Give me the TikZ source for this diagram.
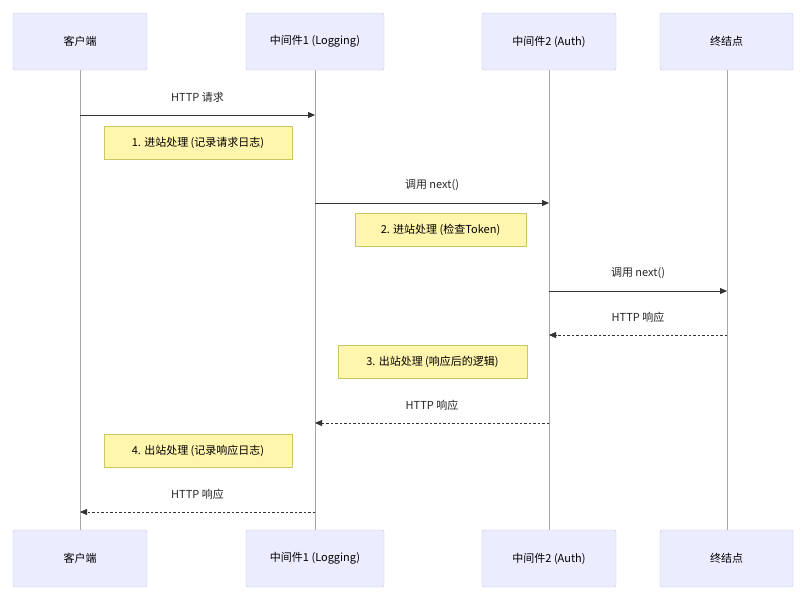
\documentclass[tikz,border=0pt]{standalone}
\usepackage{fontspec}
\setmainfont{Noto Sans CJK SC}
\usetikzlibrary{arrows.meta}
\definecolor{actfill}{HTML}{ECECFF}
\definecolor{actline}{HTML}{C8C0F0}
\definecolor{notefill}{HTML}{FFF5AD}
\definecolor{noteline}{HTML}{C8C864}
\begin{document}
\begin{tikzpicture}[x=1pt,y=-1pt,font=\fontsize{11}{13}\selectfont,
  actor/.style={draw=actline,fill=actfill,rounded corners=2pt,minimum width=134pt,minimum height=57pt,inner sep=0pt},
  note/.style={draw=noteline,fill=notefill,minimum height=33pt,inner sep=0pt},
  life/.style={draw=gray!70,line width=.8pt},
  msg/.style={draw=black!80,line width=.8pt,-{Triangle[length=7pt,width=6pt]}},
  reply/.style={msg,dash pattern=on 2.5pt off 2pt},
  lbl/.style={text=black!85}]
  \useasboundingbox (0,0) rectangle (803,598);
  % lifelines
  \draw[life] (80,70) -- (80,530);
  \draw[life] (315,70) -- (315,530);
  \draw[life] (549,70) -- (549,530);
  \draw[life] (727,70) -- (727,530);
  % actors
  \node[actor] (client) at (80,41.5) {客户端};
  \node[actor,minimum width=138pt] (mw1) at (315,41.5) {中间件1 (Logging)};
  \node[actor] (mw2) at (549,41.5) {中间件2 (Auth)};
  \node[actor,minimum width=133pt] (endp) at (726.5,41.5) {终结点};
  \node[actor] (clientB) at (80,558.5) {客户端};
  \node[actor,minimum width=138pt] (mw1B) at (315,558.5) {中间件1 (Logging)};
  \node[actor] (mw2B) at (549,558.5) {中间件2 (Auth)};
  \node[actor,minimum width=133pt] (endpB) at (726.5,558.5) {终结点};
  % message end points
  \coordinate (c1) at (80,115);  \coordinate (m1a) at (315,115);
  \coordinate (m1b) at (315,203); \coordinate (m2a) at (549,203);
  \coordinate (m2b) at (549,291); \coordinate (e1) at (727,291);
  \coordinate (e2) at (727,335); \coordinate (m2c) at (549,335);
  \coordinate (m2d) at (549,423); \coordinate (m1c) at (315,423);
  \coordinate (m1d) at (315,512); \coordinate (c2) at (80,512);
  % messages
  \draw[msg] (c1) -- node[lbl,above=9pt] {HTTP 请求} (m1a);
  \draw[msg] (m1b) -- node[lbl,above=9pt] {调用 next()} (m2a);
  \draw[msg] (m2b) -- node[lbl,above=9pt] {调用 next()} (e1);
  \draw[reply] (e2) -- node[lbl,above=9pt] {HTTP 响应} (m2c);
  \draw[reply] (m2d) -- node[lbl,above=9pt] {HTTP 响应} (m1c);
  \draw[reply] (m1d) -- node[lbl,above=9pt] {HTTP 响应} (c2);
  % notes
  \node[note,minimum width=188pt] (n1) at (198,142.5) {1. 进站处理 (记录请求日志)};
  \node[note,minimum width=171pt] (n2) at (440.5,229.5) {2. 进站处理 (检查Token)};
  \node[note,minimum width=189pt] (n3) at (432.5,361.5) {3. 出站处理 (响应后的逻辑)};
  \node[note,minimum width=188pt] (n4) at (198,450.5) {4. 出站处理 (记录响应日志)};
\end{tikzpicture}
\end{document}
